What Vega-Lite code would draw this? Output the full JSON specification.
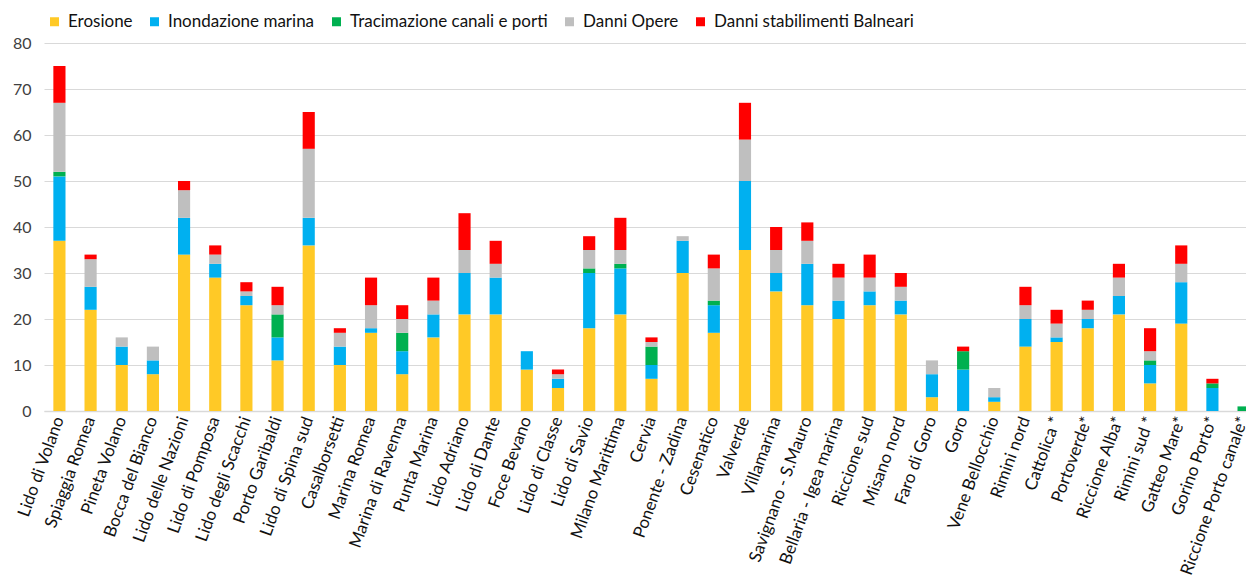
{
  "$schema": "https://vega.github.io/schema/vega-lite/v6.json",
  "autosize": "none",
  "width": 1215,
  "height": 368,
  "padding": {"left": 44, "top": 43, "right": -13, "bottom": 173},
  "background": "white",
  "config": {
    "font": "Lato",
    "view": {"stroke": null}
  },
  "datasets": {
    "series": [
      {"tipo": "Erosione", "ordine": 1},
      {"tipo": "Inondazione marina", "ordine": 2},
      {"tipo": "Tracimazione canali e porti", "ordine": 3},
      {"tipo": "Danni Opere", "ordine": 4},
      {"tipo": "Danni stabilimenti Balneari", "ordine": 5}
    ]
  },
  "data": {
    "values": [
      {"luogo": "Lido di Volano", "Erosione": 37, "Inondazione marina": 14, "Tracimazione canali e porti": 1, "Danni Opere": 15, "Danni stabilimenti Balneari": 8},
      {"luogo": "Spiaggia Romea", "Erosione": 22, "Inondazione marina": 5, "Tracimazione canali e porti": 0, "Danni Opere": 6, "Danni stabilimenti Balneari": 1},
      {"luogo": "Pineta Volano", "Erosione": 10, "Inondazione marina": 4, "Tracimazione canali e porti": 0, "Danni Opere": 2, "Danni stabilimenti Balneari": 0},
      {"luogo": "Bocca del Bianco", "Erosione": 8, "Inondazione marina": 3, "Tracimazione canali e porti": 0, "Danni Opere": 3, "Danni stabilimenti Balneari": 0},
      {"luogo": "Lido delle Nazioni", "Erosione": 34, "Inondazione marina": 8, "Tracimazione canali e porti": 0, "Danni Opere": 6, "Danni stabilimenti Balneari": 2},
      {"luogo": "Lido di Pomposa", "Erosione": 29, "Inondazione marina": 3, "Tracimazione canali e porti": 0, "Danni Opere": 2, "Danni stabilimenti Balneari": 2},
      {"luogo": "Lido degli Scacchi", "Erosione": 23, "Inondazione marina": 2, "Tracimazione canali e porti": 0, "Danni Opere": 1, "Danni stabilimenti Balneari": 2},
      {"luogo": "Porto Garibaldi", "Erosione": 11, "Inondazione marina": 5, "Tracimazione canali e porti": 5, "Danni Opere": 2, "Danni stabilimenti Balneari": 4},
      {"luogo": "Lido di Spina sud", "Erosione": 36, "Inondazione marina": 6, "Tracimazione canali e porti": 0, "Danni Opere": 15, "Danni stabilimenti Balneari": 8},
      {"luogo": "Casalborsetti", "Erosione": 10, "Inondazione marina": 4, "Tracimazione canali e porti": 0, "Danni Opere": 3, "Danni stabilimenti Balneari": 1},
      {"luogo": "Marina Romea", "Erosione": 17, "Inondazione marina": 1, "Tracimazione canali e porti": 0, "Danni Opere": 5, "Danni stabilimenti Balneari": 6},
      {"luogo": "Marina di Ravenna", "Erosione": 8, "Inondazione marina": 5, "Tracimazione canali e porti": 4, "Danni Opere": 3, "Danni stabilimenti Balneari": 3},
      {"luogo": "Punta Marina", "Erosione": 16, "Inondazione marina": 5, "Tracimazione canali e porti": 0, "Danni Opere": 3, "Danni stabilimenti Balneari": 5},
      {"luogo": "Lido Adriano", "Erosione": 21, "Inondazione marina": 9, "Tracimazione canali e porti": 0, "Danni Opere": 5, "Danni stabilimenti Balneari": 8},
      {"luogo": "Lido di Dante", "Erosione": 21, "Inondazione marina": 8, "Tracimazione canali e porti": 0, "Danni Opere": 3, "Danni stabilimenti Balneari": 5},
      {"luogo": "Foce Bevano", "Erosione": 9, "Inondazione marina": 4, "Tracimazione canali e porti": 0, "Danni Opere": 0, "Danni stabilimenti Balneari": 0},
      {"luogo": "Lido di Classe", "Erosione": 5, "Inondazione marina": 2, "Tracimazione canali e porti": 0, "Danni Opere": 1, "Danni stabilimenti Balneari": 1},
      {"luogo": "Lido di Savio", "Erosione": 18, "Inondazione marina": 12, "Tracimazione canali e porti": 1, "Danni Opere": 4, "Danni stabilimenti Balneari": 3},
      {"luogo": "Milano Marittima", "Erosione": 21, "Inondazione marina": 10, "Tracimazione canali e porti": 1, "Danni Opere": 3, "Danni stabilimenti Balneari": 7},
      {"luogo": "Cervia", "Erosione": 7, "Inondazione marina": 3, "Tracimazione canali e porti": 4, "Danni Opere": 1, "Danni stabilimenti Balneari": 1},
      {"luogo": "Ponente - Zadina", "Erosione": 30, "Inondazione marina": 7, "Tracimazione canali e porti": 0, "Danni Opere": 1, "Danni stabilimenti Balneari": 0},
      {"luogo": "Cesenatico", "Erosione": 17, "Inondazione marina": 6, "Tracimazione canali e porti": 1, "Danni Opere": 7, "Danni stabilimenti Balneari": 3},
      {"luogo": "Valverde", "Erosione": 35, "Inondazione marina": 15, "Tracimazione canali e porti": 0, "Danni Opere": 9, "Danni stabilimenti Balneari": 8},
      {"luogo": "Villamarina", "Erosione": 26, "Inondazione marina": 4, "Tracimazione canali e porti": 0, "Danni Opere": 5, "Danni stabilimenti Balneari": 5},
      {"luogo": "Savignano - S.Mauro", "Erosione": 23, "Inondazione marina": 9, "Tracimazione canali e porti": 0, "Danni Opere": 5, "Danni stabilimenti Balneari": 4},
      {"luogo": "Bellaria - Igea marina", "Erosione": 20, "Inondazione marina": 4, "Tracimazione canali e porti": 0, "Danni Opere": 5, "Danni stabilimenti Balneari": 3},
      {"luogo": "Riccione sud", "Erosione": 23, "Inondazione marina": 3, "Tracimazione canali e porti": 0, "Danni Opere": 3, "Danni stabilimenti Balneari": 5},
      {"luogo": "Misano nord", "Erosione": 21, "Inondazione marina": 3, "Tracimazione canali e porti": 0, "Danni Opere": 3, "Danni stabilimenti Balneari": 3},
      {"luogo": "Faro di Goro", "Erosione": 3, "Inondazione marina": 5, "Tracimazione canali e porti": 0, "Danni Opere": 3, "Danni stabilimenti Balneari": 0},
      {"luogo": "Goro", "Erosione": 0, "Inondazione marina": 9, "Tracimazione canali e porti": 4, "Danni Opere": 0, "Danni stabilimenti Balneari": 1},
      {"luogo": "Vene Bellocchio", "Erosione": 2, "Inondazione marina": 1, "Tracimazione canali e porti": 0, "Danni Opere": 2, "Danni stabilimenti Balneari": 0},
      {"luogo": "Rimini nord", "Erosione": 14, "Inondazione marina": 6, "Tracimazione canali e porti": 0, "Danni Opere": 3, "Danni stabilimenti Balneari": 4},
      {"luogo": "Cattolica *", "Erosione": 15, "Inondazione marina": 1, "Tracimazione canali e porti": 0, "Danni Opere": 3, "Danni stabilimenti Balneari": 3},
      {"luogo": "Portoverde*", "Erosione": 18, "Inondazione marina": 2, "Tracimazione canali e porti": 0, "Danni Opere": 2, "Danni stabilimenti Balneari": 2},
      {"luogo": "Riccione Alba*", "Erosione": 21, "Inondazione marina": 4, "Tracimazione canali e porti": 0, "Danni Opere": 4, "Danni stabilimenti Balneari": 3},
      {"luogo": "Rimini sud *", "Erosione": 6, "Inondazione marina": 4, "Tracimazione canali e porti": 1, "Danni Opere": 2, "Danni stabilimenti Balneari": 5},
      {"luogo": "Gatteo Mare*", "Erosione": 19, "Inondazione marina": 9, "Tracimazione canali e porti": 0, "Danni Opere": 4, "Danni stabilimenti Balneari": 4},
      {"luogo": "Gorino Porto*", "Erosione": 0, "Inondazione marina": 5, "Tracimazione canali e porti": 1, "Danni Opere": 0, "Danni stabilimenti Balneari": 1},
      {"luogo": "Riccione Porto canale*", "Erosione": 0, "Inondazione marina": 0, "Tracimazione canali e porti": 1, "Danni Opere": 0, "Danni stabilimenti Balneari": 0}
    ]
  },
  "transform": [
    {"fold": ["Erosione", "Inondazione marina", "Tracimazione canali e porti", "Danni Opere", "Danni stabilimenti Balneari"], "as": ["tipo", "valore"]},
    {"lookup": "tipo", "from": {"data": {"name": "series"}, "key": "tipo", "fields": ["ordine"]}}
  ],
  "mark": {"type": "bar"},
  "encoding": {
    "x": {
      "field": "luogo", "type": "nominal", "sort": null,
      "scale": {"paddingInner": 0.61, "paddingOuter": 0.3},
      "axis": {
        "title": null, "labelAngle": -70, "labelFontSize": 17, "labelColor": "#111111",
        "labelPadding": 6, "ticks": false, "domainColor": "#d9d9d9", "domainWidth": 1.5,
        "grid": false, "labelOverlap": false, "labelLimit": 300
      }
    },
    "y": {
      "field": "valore", "type": "quantitative", "stack": "zero",
      "scale": {"domain": [0, 80], "nice": false},
      "axis": {
        "title": null, "values": [0, 10, 20, 30, 40, 50, 60, 70, 80],
        "labelFontSize": 16, "labelColor": "#404040", "labelPadding": 13,
        "ticks": false, "domain": false, "gridColor": "#d9d9d9", "gridWidth": 1.2
      }
    },
    "color": {
      "field": "tipo", "type": "nominal",
      "scale": {
        "domain": ["Erosione", "Inondazione marina", "Tracimazione canali e porti", "Danni Opere", "Danni stabilimenti Balneari"],
        "range": ["#FFC926", "#00B0F0", "#00B050", "#BFBFBF", "#FF0000"]
      },
      "legend": {
        "title": null, "orient": "none", "direction": "horizontal",
        "legendX": 2, "legendY": -30,
        "symbolType": "square", "symbolSize": 81, "symbolStrokeWidth": 0,
        "labelFontSize": 17, "labelColor": "#111111", "columnPadding": 13, "labelOffset": 5,
        "labelLimit": 400
      }
    },
    "order": {"field": "ordine", "type": "quantitative", "sort": "ascending"}
  }
}
